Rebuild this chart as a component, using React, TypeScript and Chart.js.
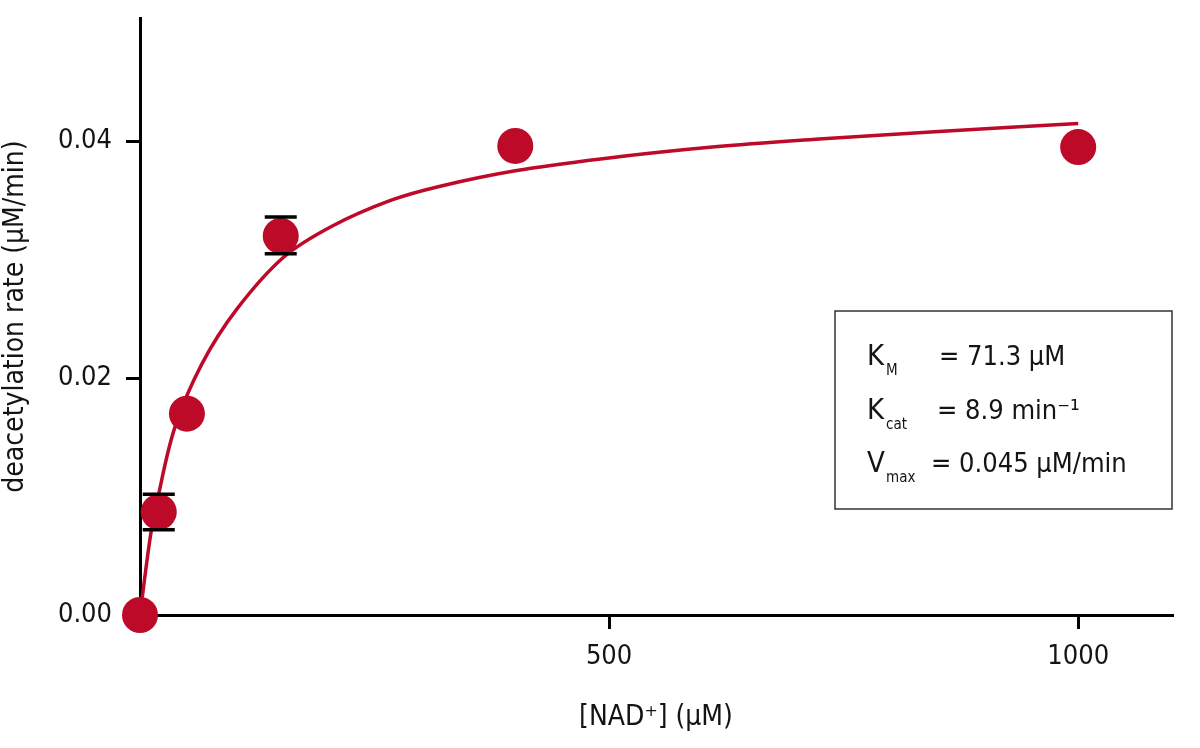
import { useEffect, useRef } from "react";
import { Chart, registerables } from "chart.js";

Chart.register(...registerables);

const RED = "#bd0a28";
const INK = "#141414";
const FONT = "'DejaVu Sans Condensed', 'DejaVu Sans', sans-serif";

// measured points: [NAD+] (µM) vs deacetylation rate (µM/min)
const conc = [0, 20, 50, 150, 400, 1000];
const rate = [0, 0.0087, 0.017, 0.032, 0.0396, 0.0395];
const errLow = [null, 0.0072, null, 0.0305, null, null];
const errHigh = [null, 0.0102, null, 0.0336, null, null];

// fitted Michaelis-Menten curve
const fitX = [0, 11, 18, 37, 66, 103, 153, 204, 267, 320, 400, 491, 610, 728, 847, 1000];
const fitY = [0, 0.0066, 0.0095, 0.0158, 0.0212, 0.0258, 0.0302, 0.0328, 0.0350, 0.0362, 0.0375, 0.0385, 0.0395, 0.0402, 0.0408, 0.0415];

const xTicks = [500, 1000];
const yTicks = [0, 0.02, 0.04];

const statNames = ["K", "K", "V"];
const statSubs = ["M", "cat", "max"];
const statValues = ["= 71.3 µM", "= 8.9 min⁻¹", "= 0.045 µM/min"];

const errorBars = {
  id: "errorBars",
  beforeDatasetsDraw(chart: any) {
    const { ctx, scales } = chart;
    ctx.save();
    ctx.strokeStyle = "#000";
    ctx.lineWidth = 3;
    conc.forEach((c, i) => {
      if (errLow[i] == null) return;
      const x = scales.x.getPixelForValue(c);
      ctx.beginPath();
      ctx.moveTo(x, scales.y.getPixelForValue(errLow[i]));
      ctx.lineTo(x, scales.y.getPixelForValue(errHigh[i]));
      ctx.stroke();
    });
    ctx.restore();
  },
  afterDatasetsDraw(chart: any) {
    const { ctx, scales } = chart;
    ctx.save();
    ctx.strokeStyle = "#000";
    ctx.lineWidth = 3.5;
    conc.forEach((c, i) => {
      if (errLow[i] == null) return;
      const x = scales.x.getPixelForValue(c);
      for (const v of [errLow[i], errHigh[i]]) {
        const y = scales.y.getPixelForValue(v);
        ctx.beginPath();
        ctx.moveTo(x - 16, y);
        ctx.lineTo(x + 16, y);
        ctx.stroke();
      }
    });
    ctx.restore();
  },
};

const statsBox = {
  id: "statsBox",
  afterDraw(chart: any) {
    const { ctx, chartArea } = chart;
    const right = chartArea.right;
    const left = right - 337;
    const top = 311;
    ctx.save();
    ctx.strokeStyle = "#333";
    ctx.lineWidth = 1.5;
    ctx.strokeRect(left, top, right - left, 198);
    ctx.fillStyle = INK;
    ctx.textBaseline = "alphabetic";
    ctx.textAlign = "left";
    const eqX = [939, 937, 931];
    statNames.forEach((n, i) => {
      const base = top + 54 + i * 53.5;
      ctx.font = `29px ${FONT}`;
      ctx.fillText(n, left + 32, base);
      ctx.font = `15px ${FONT}`;
      ctx.fillText(statSubs[i], left + 51, base + 10);
      ctx.font = `27px ${FONT}`;
      ctx.fillText(statValues[i], eqX[i] - 835 + left, base);
    });
    ctx.restore();
  },
};

export default function App() {
  const canvasRef = useRef<HTMLCanvasElement>(null);

  useEffect(() => {
    document.body.style.margin = "0";
    if (!canvasRef.current) return;
    const chart = new Chart(canvasRef.current, {
      type: "line",
      data: {
        datasets: [
          {
            label: "points",
            data: conc.map((c, i) => ({ x: c, y: rate[i] })),
            showLine: false,
            pointRadius: 18,
            pointHoverRadius: 18,
            pointBackgroundColor: RED,
            pointBorderWidth: 0,
            clip: false,
            order: 1,
          },
          {
            label: "fit",
            data: fitX.map((x, i) => ({ x, y: fitY[i] })),
            borderColor: RED,
            borderWidth: 3.5,
            pointRadius: 0,
            tension: 0.35,
            fill: false,
            clip: false,
            order: 2,
          },
        ],
      },
      options: {
        responsive: false,
        devicePixelRatio: 1,
        animation: false,
        events: [],
        layout: { padding: { top: 18, right: 28, left: 0, bottom: 0 } },
        plugins: { legend: { display: false }, tooltip: { enabled: false } },
        scales: {
          x: {
            type: "linear",
            min: 0,
            max: 1100,
            afterFit: (s: any) => {
              s.height = 133;
              s.paddingLeft = 0;
              s.paddingRight = 0;
            },
            afterBuildTicks: (s: any) => {
              s.ticks = xTicks.map((value) => ({ value }));
            },
            border: { color: "#000", width: 3 },
            grid: { drawOnChartArea: false, drawTicks: true, tickLength: 14, lineWidth: 3, color: "#000" },
            ticks: {
              font: { family: FONT, size: 27 },
              color: INK,
              padding: 12,
              maxRotation: 0,
              callback: (v: any) => String(v),
            },
            title: {
              display: true,
              text: "[NAD⁺] (µM)",
              color: INK,
              font: { family: FONT, size: 28, lineHeight: 1.2 },
              padding: { top: 0, bottom: 13 },
            },
          },
          y: {
            type: "linear",
            min: 0,
            max: 0.0504,
            afterFit: (s: any) => {
              s.width = 140;
              s.paddingTop = 0;
              s.paddingBottom = 0;
            },
            afterBuildTicks: (s: any) => {
              s.ticks = yTicks.map((value) => ({ value }));
            },
            border: { color: "#000", width: 3 },
            grid: { drawOnChartArea: false, drawTicks: true, tickLength: 14, lineWidth: 3, color: "#000" },
            ticks: {
              font: { family: FONT, size: 27 },
              color: INK,
              padding: 14,
              callback: (v: any) => Number(v).toFixed(2),
            },
            title: {
              display: true,
              text: "deacetylation rate (µM/min)",
              color: INK,
              font: { family: FONT, size: 28, lineHeight: 1.1 },
              padding: { top: 0, bottom: 0 },
            },
          },
        },
      },
      plugins: [errorBars, statsBox],
    } as any);
    return () => chart.destroy();
  }, []);

  return (
    <div style={{ width: 1200, height: 748, background: "#fff" }}>
      <canvas
        ref={canvasRef}
        width={1200}
        height={748}
        role="img"
        aria-label="Michaelis-Menten plot of deacetylation rate versus NAD+ concentration"
      />
    </div>
  );
}
